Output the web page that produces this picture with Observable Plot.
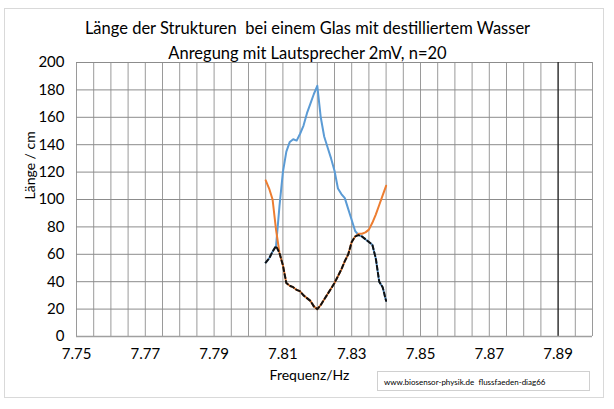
<!DOCTYPE html>
<html>
<head>
<meta charset="utf-8">
<script src="https://cdn.jsdelivr.net/npm/d3@7"></script>
<script src="https://cdn.jsdelivr.net/npm/@observablehq/plot@0.6"></script>
<style>
  body { margin: 0; background: #fff; font-family: Lato, "Open Sans", sans-serif; }
  #wrap { position: relative; width: 614px; height: 409px; }
  #border { position: absolute; left: 4px; top: 8px; width: 598px; height: 388px; border: 1px solid #d9d9d9; pointer-events: none; }
  #caption { position: absolute; left: 377px; top: 371px; width: 213px; height: 20px; border: 1px solid #d0d0d0; background: #fff;
    font: 8px Lato, sans-serif; line-height: 20px; padding-left: 6px; box-sizing: border-box; color: #000; white-space: pre; }
</style>
</head>
<body>
<div id="wrap">
  <div id="chart"></div>
  <div id="border"></div>
  <div id="caption">www.biosensor-physik.de  flussfaeden-diag66</div>
</div>
<script>
const title1 = "Länge der Strukturen  bei einem Glas mit destilliertem Wasser";
const title2 = "Anregung mit Lautsprecher 2mV, n=20";
const xLabel = "Frequenz/Hz";
const yLabel = "Länge / cm";

const freq = [7.805, 7.806, 7.807, 7.808, 7.809, 7.810, 7.811, 7.812, 7.813, 7.814,
              7.815, 7.816, 7.817, 7.818, 7.819, 7.820, 7.821, 7.822, 7.823, 7.824,
              7.825, 7.826, 7.827, 7.828, 7.829, 7.830, 7.831, 7.832, 7.833, 7.834,
              7.835, 7.836, 7.837, 7.838, 7.839, 7.840];
const blueSeries = [54, 57, 62, 66, 95, 120, 135, 142, 144, 143,
                    148, 154, 163, 170, 177, 183, 160, 146, 138, 130,
                    121, 108, 104, 101, 93, 85, 77, 74, 73, 71,
                    69, 67, 57, 40, 36, 26];
const orangeSeries = [114, 108, 100, 78, 61, 52, 39, 37, 36, 34,
                      33, 30, 28, 26, 22, 20, 23, 27, 31, 35,
                      39, 44, 49, 55, 60, 69, 73, 75, 75, 76,
                      78, 83, 89, 96, 103, 110];
const lowerSeries = [54, 57, 62, 66, 61, 52, 39, 37, 36, 34,
                     33, 30, 28, 26, 22, 20, 23, 27, 31, 35,
                     39, 44, 49, 55, 60, 69, 73, 74, 73, 71,
                     69, 67, 57, 40, 36, 26];

const xTicks = [7.75, 7.77, 7.79, 7.81, 7.83, 7.85, 7.87, 7.89];
const yTicks = [0, 20, 40, 60, 80, 100, 120, 140, 160, 180, 200];
const xGrid = d3.range(0, 31).map(i => +(7.75 + i * 0.005).toFixed(3));
const markerLine = [7.89];

const toRows = arr => freq.map((f, i) => ({f, v: arr[i]}));

const chart = Plot.plot({
  width: 614,
  height: 409,
  marginLeft: 76,
  marginRight: 22,
  marginTop: 62,
  marginBottom: 73,
  style: {fontFamily: "Lato, 'Open Sans', sans-serif", fontSize: "15px", background: "#fff", overflow: "visible"},
  x: {domain: [7.75, 7.90], ticks: xTicks, tickFormat: d => d.toFixed(2), tickSize: 0, tickPadding: 12, label: null},
  y: {domain: [0, 200], ticks: yTicks, tickSize: 0, tickPadding: 12, label: null},
  marks: [
    Plot.ruleX(xGrid, {stroke: "#9a9a9a", strokeWidth: 1, strokeOpacity: 1}),
    Plot.ruleY(yTicks, {stroke: "#8c8c8c", strokeWidth: 1, strokeOpacity: 1}),
    Plot.ruleX(markerLine, {stroke: "#000", strokeWidth: 1}),
    Plot.ruleY([0], {stroke: "#a0a0a0", strokeWidth: 1.5}),
    Plot.line(toRows(blueSeries), {x: "f", y: "v", stroke: "#5b9bd5", strokeWidth: 2}),
    Plot.line(toRows(orangeSeries), {x: "f", y: "v", stroke: "#ed7d31", strokeWidth: 2}),
    Plot.line(toRows(lowerSeries), {x: "f", y: "v", stroke: "#111", strokeWidth: 2, strokeDasharray: "4,3"}),
    Plot.text([title1], {frameAnchor: "top", dx: -27, dy: -40, text: d => d, fontSize: 16.5, fill: "#000"}),
    Plot.text([title2], {frameAnchor: "top", dx: -27, dy: -15, text: d => d, fontSize: 16.5, fill: "#000"}),
    Plot.text([xLabel], {frameAnchor: "bottom", dx: -25, dy: 43, text: d => d, fontSize: 14, fill: "#000"}),
    Plot.text([yLabel], {frameAnchor: "left", dx: -46, rotate: -90, text: d => d, fontSize: 14, fill: "#000"})
  ]
});
document.getElementById("chart").append(chart);
</script>
</body>
</html>
